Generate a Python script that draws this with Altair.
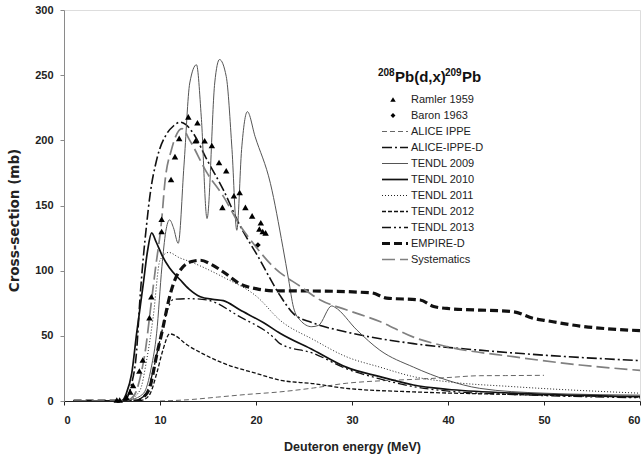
import altair as alt
import pandas as pd

FONT = "Liberation Sans"

# ---------------- data ----------------
ramler_E = [5.5, 5.8, 6.5, 6.9, 7.2, 7.85, 8.2, 8.9, 9.1, 10.17, 10.17, 11.15, 11.56,
            12.0, 12.95, 13.7, 13.9, 14.65, 15.4, 16.15, 16.5, 16.9, 17.7, 18.3,
            18.9, 19.6, 20.35, 20.5, 20.7, 21.0]
ramler_S = [0.8, 0.8, 3, 7, 12, 23, 31.5, 64, 80, 130, 139.4, 170, 187.5,
            201.5, 218, 199.7, 213.5, 199.7, 196, 183, 148.6, 176.7, 157.5, 160,
            148.6, 142, 132, 136.8, 130, 129]

baron_E = [20.2]
baron_S = [119.7]

alice_E = [10, 13, 16, 19, 22.5, 26, 29.4, 33, 36.4, 40, 43.3, 46, 50]
alice_S = [0, 1, 3, 5, 7, 10, 13.6, 15.5, 16.6, 18, 19.4, 19.5, 19.7]

aliced_E = [1, 6, 6.5, 7.0, 7.57, 7.9, 8.26, 8.6, 8.96, 9.65, 10.7, 11.4, 12.1, 12.7,
            13.5, 14.9, 16.6, 18.3, 20.2, 22.5, 23.9, 25.9, 29.4, 36.4, 43.3, 50.3, 60]
aliced_S = [0, 0, 2, 12, 39, 77, 110, 135, 158, 185, 205, 211, 214, 212,
            205, 185, 162, 135, 111, 81, 67, 60, 53, 44, 39, 35, 31]

t2009_E = [1, 6, 7, 8.3, 9.1, 9.65, 10.2, 10.6, 11.0, 11.4, 11.9, 12.5, 13.1, 13.8,
           14.3, 14.9, 15.7, 16.2, 16.9, 17.5, 18.0, 18.5, 19.1, 19.9, 21.5, 22.8,
           23.4, 23.9, 24.6, 25.8, 26.5, 27.9, 28.2, 30.5, 32.9, 36.4, 39.9, 43.3,
           50, 60]
t2009_S = [0, 0, 1, 6, 26, 52, 103, 130, 139, 133, 121, 181, 244, 258,
           218, 140, 244, 262, 249, 193, 131, 193, 222, 203, 167, 118,
           93, 72, 62, 57, 58, 73, 72, 54.5, 39, 26, 16, 9.7,
           6, 4.5]

t2010_E = [1, 6, 6.5, 7.05, 7.57, 8.26, 8.7, 9.13, 9.6, 10.2, 11.0, 12.1, 13.0, 14.2,
           15.5, 16.6, 18.3, 20.8, 22.5, 26, 29.4, 32.9, 36.4, 39.9, 46.8, 60]
t2010_S = [0, 0, 6, 21, 52, 90, 115, 129, 122, 112, 102, 93, 86, 80,
           78, 77, 70, 60, 52, 39, 26, 18.7, 12.3, 9, 6, 3.3]

t2011_E = [1, 6.5, 7.9, 8.6, 9.3, 10.0, 10.9, 12, 13.1, 16.6, 20.1, 22.5, 26, 29.4,
           32.9, 36.4, 39.9, 46.8, 60]
t2011_S = [0, 0, 8, 31, 65, 108, 114, 110, 107, 95, 80, 62, 47, 34,
           26, 18.7, 14.8, 11, 6]

t2012_E = [1, 7.5, 8.3, 9.0, 9.65, 10.3, 11.0, 13.1, 16.6, 20.1, 22.5, 26, 29.4, 36.4,
           46.8, 60]
t2012_S = [0, 0, 1, 6, 21, 39, 51.5, 41.7, 29, 21, 16, 13.3, 9.7, 7,
           5, 3]

t2013_E = [1, 7, 8.0, 8.7, 9.4, 10, 10.7, 11.4, 13.1, 14.9, 18.3, 21.8, 22.5, 26,
           29.4, 32.9, 36.4, 39.9, 46.8, 60]
t2013_S = [0, 0, 2, 8, 27, 47, 68, 78, 78.5, 77.5, 64.7, 49, 44, 36.5,
           24.8, 17, 11, 7.7, 5, 2.5]

empire_E = [1, 7.5, 8.3, 8.96, 9.65, 10.3, 10.9, 11.4, 12.4, 13.3, 14.2, 15.3, 16.6,
            18.3, 20.1, 22, 26, 32, 33.6, 37.1, 38.5, 39.9, 46.8, 48.9, 50.3, 53.75, 60]
empire_S = [0, 0, 3, 11, 35, 56, 77, 90, 103, 107, 108, 105, 99,
            90, 86, 84.5, 84.4, 83, 79, 77.5, 72.5, 71, 68.5, 63.4, 61.6, 57.5, 54]

syst_E = [1, 6, 7, 7.5, 8, 8.5, 9, 9.5, 10.2, 10.5, 11.2, 12.3, 13.1, 14.9, 16.6,
          18.3, 19.7, 21.8, 24.6, 26.7, 29.4, 32.9, 36.4, 39.9, 46.8, 53.75, 60]
syst_S = [0, 0, 2, 7, 20, 40, 70, 100, 141, 167, 193, 209, 200, 175, 157,
          135, 121, 103, 88, 77.5, 70, 61, 49, 41.7, 34, 27.6, 23.5]

legend_labels = ["Ramler 1959", "Baron 1963", "ALICE IPPE", "ALICE-IPPE-D", "TENDL 2009",
                 "TENDL 2010", "TENDL 2011", "TENDL 2012", "TENDL 2013", "EMPIRE-D",
                 "Systematics"]

# ---------------- styles ----------------
line_series = [
    ("ALICE IPPE", alice_E, alice_S, dict(color="#666666", strokeWidth=1, strokeDash=[5, 3])),
    ("ALICE-IPPE-D", aliced_E, aliced_S, dict(color="#111111", strokeWidth=1.6, strokeDash=[10, 3, 2, 3])),
    ("TENDL 2009", t2009_E, t2009_S, dict(color="#555555", strokeWidth=1)),
    ("TENDL 2010", t2010_E, t2010_S, dict(color="#111111", strokeWidth=1.7)),
    ("TENDL 2011", t2011_E, t2011_S, dict(color="#222222", strokeWidth=1, strokeDash=[1, 2])),
    ("TENDL 2012", t2012_E, t2012_S, dict(color="#111111", strokeWidth=1.3, strokeDash=[4, 2])),
    ("TENDL 2013", t2013_E, t2013_S, dict(color="#111111", strokeWidth=1.3, strokeDash=[9, 3, 2, 3, 2, 3])),
    ("EMPIRE-D", empire_E, empire_S, dict(color="#111111", strokeWidth=3.2, strokeDash=[8, 4])),
    ("Systematics", syst_E, syst_S, dict(color="#808080", strokeWidth=1.7, strokeDash=[13, 5])),
]
style_by_name = {n: s for n, _, _, s in line_series}

x_scale = alt.Scale(domain=[0, 60], nice=False, zero=False)
y_scale = alt.Scale(domain=[0, 300], nice=False)

x_axis = alt.Axis(values=[0, 10, 20, 30, 40, 50, 60], title="Deuteron energy (MeV)", grid=False,
                  labelFont=FONT, labelFontSize=11, labelFontWeight="bold", labelColor="#222222",
                  titleFont=FONT, titleFontSize=12.5, titleFontWeight="bold", titleColor="#222222",
                  domainColor="#222222", tickColor="#222222", tickSize=4, labelPadding=9,
                  titlePadding=15)
y_axis = alt.Axis(values=[0, 50, 100, 150, 200, 250, 300], title="Cross-section (mb)", grid=False,
                  labelFont=FONT, labelFontSize=11, labelFontWeight="bold", labelColor="#222222",
                  titleFont="DejaVu Sans", titleFontSize=13.5, titleFontWeight="bold", titleColor="#222222",
                  domainColor="#8a8a8a", tickColor="#8a8a8a", tickSize=4, labelPadding=7,
                  titlePadding=13, titleY=210)

layers = []
for name, E, S, style in line_series:
    df = pd.DataFrame({"E": E, "S": S})
    layers.append(
        alt.Chart(df).mark_line(interpolate="monotone", clip=True, **style).encode(
            x=alt.X("E:Q", scale=x_scale, axis=x_axis),
            y=alt.Y("S:Q", scale=y_scale, axis=y_axis),
        )
    )

ramler_df = pd.DataFrame({"E": ramler_E, "S": ramler_S})
layers.append(
    alt.Chart(ramler_df).mark_point(shape="triangle-up", filled=True, color="#000000", size=42, opacity=1).encode(
        x=alt.X("E:Q", scale=x_scale, axis=x_axis), y=alt.Y("S:Q", scale=y_scale, axis=y_axis))
)
baron_df = pd.DataFrame({"E": baron_E, "S": baron_S})
layers.append(
    alt.Chart(baron_df).mark_point(shape="diamond", filled=True, color="#000000", size=32, opacity=1).encode(
        x=alt.X("E:Q", scale=x_scale, axis=x_axis), y=alt.Y("S:Q", scale=y_scale, axis=y_axis))
)

# ---------------- legend (drawn by hand, pixel positions in plot area) ----------------
one = pd.DataFrame({"a": [0]})
OX, OY = 64, 10          # plot-area origin in the page
LX0, LX1, TX = 382 - OX, 408 - OX, 411 - OX
ROW0, DY = 99.5 - OY, 16.0

for i, lab in enumerate(legend_labels):
    yy = ROW0 + i * DY
    if lab == "Ramler 1959":
        layers.append(alt.Chart(one).mark_point(shape="triangle-up", filled=True, color="#000", size=30, opacity=1)
                      .encode(x=alt.value(393 - OX), y=alt.value(yy)))
    elif lab == "Baron 1963":
        layers.append(alt.Chart(one).mark_point(shape="diamond", filled=True, color="#000", size=24, opacity=1)
                      .encode(x=alt.value(393 - OX), y=alt.value(yy)))
    else:
        st = style_by_name[lab]
        layers.append(alt.Chart(one).mark_rule(**st)
                      .encode(x=alt.value(LX0), x2=alt.value(LX1), y=alt.value(yy)))
    layers.append(alt.Chart(one).mark_text(text=lab, align="left", baseline="middle", font=FONT,
                                           fontSize=11, color="#222222")
                  .encode(x=alt.value(TX), y=alt.value(yy)))

# title 208Pb(d,x)209Pb
title_parts = [("208", 378, 10, 75.5), ("Pb(d,x)", 395, 15, 82), ("209", 445, 10, 75.5), ("Pb", 462, 15, 82)]
for txt, px, fs, by in title_parts:
    layers.append(alt.Chart(one).mark_text(text=txt, align="left", baseline="alphabetic", font=FONT,
                                           fontSize=fs, fontWeight="bold", color="#111111")
                  .encode(x=alt.value(px - OX), y=alt.value(by - OY)))

chart = alt.layer(*layers).properties(
    width=576, height=391,
    autosize=alt.AutoSizeParams(type="none"),
    padding={"left": 64, "top": 10, "right": 2, "bottom": 53},
).configure_view(stroke="#555555", strokeWidth=1).configure(background="white")

chart.save("out.html", embed_options={"renderer": "svg", "actions": False})
